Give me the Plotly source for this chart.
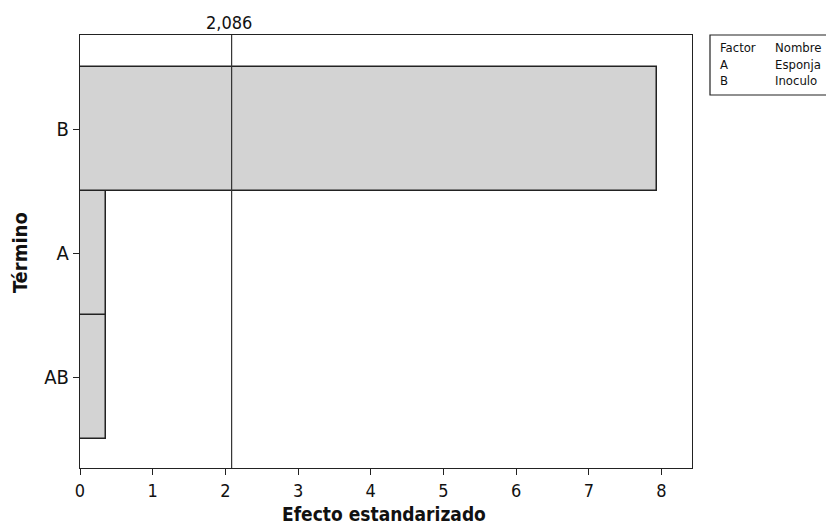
import plotly.graph_objects as go

terms = ["AB", "A", "B"]
effects = [0.36, 0.36, 7.94]
ref_value = 2.086
ref_label = "2,086"
x_ticks = [0, 1, 2, 3, 4, 5, 6, 7, 8]
legend_rows = [("Factor", "Nombre"), ("A", "Esponja"), ("B", "Inoculo")]
x_title = "Efecto estandarizado"
y_title = "Término"

FONT = "DejaVu Sans Condensed, DejaVu Sans, sans-serif"

# page is rendered with an 8px body margin; plot area in page coords:
PL, PR, PT, PB = 80, 692, 35, 468
PW, PH = PR - PL, PB - PT


def px(x):
    return (x - PL) / PW


def py(y):
    return (PB - y) / PH


fig = go.Figure()
fig.add_trace(go.Bar(
    y=terms, x=effects, orientation="h", width=1.0,
    marker=dict(color="#d3d3d3", line=dict(color="#222222", width=1.5)),
    showlegend=False, hoverinfo="skip",
))

fig.add_shape(type="line", xref="x", yref="paper", x0=ref_value, x1=ref_value,
              y0=0, y1=1, line=dict(color="#333333", width=1.2))
fig.add_annotation(x=ref_value, xref="x", y=1, yref="paper", yanchor="bottom",
                   text=ref_label, showarrow=False, yshift=0, xshift=-3,
                   font=dict(family=FONT, size=18, color="#111111"))

# axis titles
fig.add_annotation(xref="paper", yref="paper", x=px(384), y=py(514),
                   xanchor="center", yanchor="middle", showarrow=False,
                   text="<b>%s</b>" % x_title,
                   font=dict(family=FONT, size=19, color="#111111"))
fig.add_annotation(xref="paper", yref="paper", x=px(20), y=py(253),
                   xanchor="center", yanchor="middle", showarrow=False,
                   textangle=-90, text="<b>%s</b>" % y_title,
                   font=dict(family=FONT, size=20, color="#111111"))

# legend-like table
fig.add_shape(type="rect", xref="paper", yref="paper",
              x0=px(710), x1=px(828), y0=py(95), y1=py(35),
              line=dict(color="#222222", width=1.2), fillcolor="white")
row_y = [47, 64, 81]
for (c1, c2), yy in zip(legend_rows, row_y):
    for txt, xx in ((c1, 718), (c2, 773)):
        fig.add_annotation(xref="paper", yref="paper", x=px(xx),
                           y=py(yy), xanchor="left", yanchor="middle",
                           text=txt, showarrow=False,
                           font=dict(family=FONT, size=13, color="#111111"))

fig.update_layout(
    width=826, height=517,
    margin=dict(l=PL - 8, r=834 - PR, t=PT - 8, b=525 - PB),
    paper_bgcolor="white", plot_bgcolor="white",
    font=dict(family=FONT, color="#111111"),
    bargap=0,
    xaxis=dict(range=[0, 8.42], tickvals=x_ticks, showgrid=False, zeroline=False,
               showline=True, mirror=True, linecolor="#222222", linewidth=1.2,
               ticks="outside", ticklen=6, tickcolor="#222222",
               tickfont=dict(size=18), automargin=False),
    yaxis=dict(range=[-0.73, 2.76], categoryorder="array", categoryarray=terms,
               showgrid=False, zeroline=False,
               showline=True, mirror=True, linecolor="#222222", linewidth=1.2,
               ticks="outside", ticklen=6, tickcolor="#222222",
               tickfont=dict(size=20), automargin=False),
)

fig.write_html("out.html")
